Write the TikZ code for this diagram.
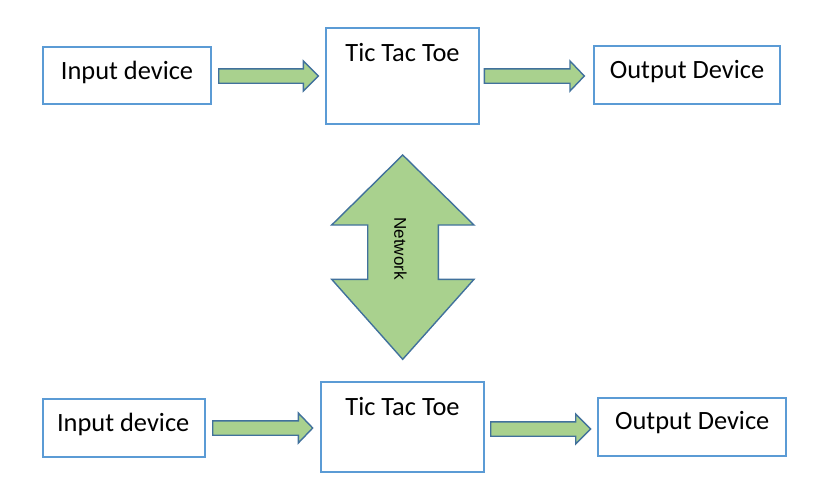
\documentclass[tikz,border=0pt]{standalone}
\usepackage{fontspec}
\setmainfont{Carlito}
\newfontfamily\netfont{Liberation Sans}
\definecolor{boxblue}{HTML}{5B9BD5}
\definecolor{arrfill}{HTML}{A9D18E}
\definecolor{arrline}{HTML}{41719C}
\tikzset{
  box/.style={draw=boxblue, line width=2pt, fill=white, inner sep=0pt, outer sep=0pt},
  lbl/.style={anchor=base, inner sep=0pt, font=\fontsize{26.4}{30}\selectfont},
  blockarrow/.style={draw=arrline, fill=arrfill, line width=1.4pt, line join=miter},
}
\newcommand{\barrow}[5]{%
  \draw[blockarrow] (#1,#4-7.2) -- (#2,#4-7.2) -- (#2,#4-15) -- (#3,#4) -- (#2,#4+15) -- (#2,#4+7.2) -- (#1,#4+7.2) -- cycle;
  \coordinate (#5) at (#3,#4);}
\begin{document}
\begin{tikzpicture}[x=1pt, y=-1pt]
\useasboundingbox (0,0) rectangle (826,499);
% top row
\node[box, minimum width=168.3pt, minimum height=57.6pt] (in1) at (126.85,75.5) {};
\node[box, minimum width=153.6pt, minimum height=96.3pt] (ttt1) at (402.5,75.85) {};
\node[box, minimum width=186.6pt, minimum height=58pt] (out1) at (687,74.7) {};
\node[lbl] (in1t) at (127,79.3) {Input device};
\node[lbl] (ttt1t) at (402.5,61.7) {Tic Tac Toe};
\node[lbl] (out1t) at (687,78.3) {Output Device};
\barrow{218.7}{303.3}{318.3}{76}{a1}
\barrow{484.3}{570}{584.3}{76}{a2}
% network double arrow
\draw[blockarrow] (402.7,155) -- (474,225) -- (438.3,225) -- (438.3,279.3) -- (474,279.3)
  -- (402.7,359.3) -- (331.7,279.3) -- (367.7,279.3) -- (367.7,225) -- (331.7,225) -- cycle;
\node[rotate=-90, inner sep=0pt, font=\netfont\fontsize{17}{20}\selectfont] (net) at (400.5,248.5) {Network};
% bottom row
\node[box, minimum width=162.3pt, minimum height=57.7pt] (in2) at (123.85,427.85) {};
\node[box, minimum width=163.3pt, minimum height=89.4pt] (ttt2) at (402.35,427) {};
\node[box, minimum width=188.6pt, minimum height=57.7pt] (out2) at (692,426.85) {};
\node[lbl] (in2t) at (123.2,431) {Input device};
\node[lbl] (ttt2t) at (402.5,415) {Tic Tac Toe};
\node[lbl] (out2t) at (692.2,429.3) {Output Device};
\barrow{212.7}{298.3}{312.7}{428}{b1}
\barrow{490.7}{575.7}{590.7}{429}{b2}
\end{tikzpicture}
\end{document}
